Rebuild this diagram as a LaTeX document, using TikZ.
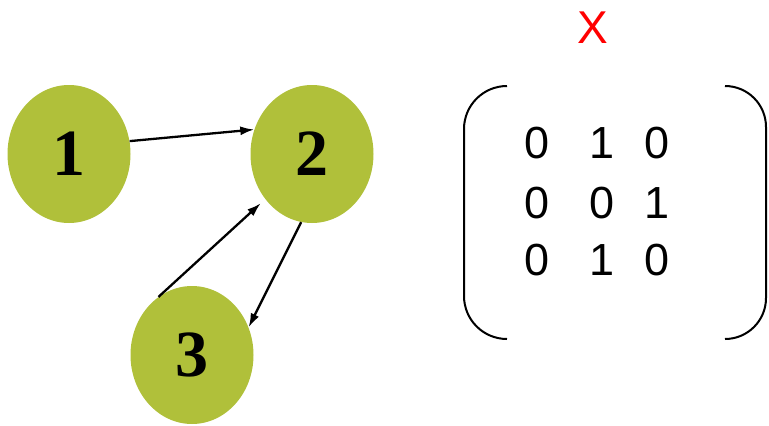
\documentclass[tikz,border=0pt]{standalone}
\usepackage{fontspec}
\setmainfont{Liberation Serif}
\newfontfamily\digitfont{Liberation Sans}
\usepackage{tikz}
\usetikzlibrary{arrows.meta,shapes.geometric}
\definecolor{vertexgreen}{RGB}{176,192,58}

\begin{document}
\begin{tikzpicture}[x=1pt,y=-1pt,
  vertex/.style={ellipse,fill=vertexgreen,minimum width=123pt,minimum height=138pt,
    inner sep=0pt,font=\fontsize{66}{66}\selectfont\bfseries},
  edge/.style={line width=2.3pt,-{Latex[length=14pt,width=9pt]}},
  entry/.style={font=\digitfont\fontsize{45}{45}\selectfont},
  bracket/.style={line width=2pt}]
  \useasboundingbox (0,0) rectangle (769,426);
  \node[vertex] (n1) at (69,154) {1};
  \node[vertex] (n2) at (312,154) {2};
  \node[vertex] (n3) at (192,355) {3};
  \draw[edge] (n1.12) -- (n2.157);
  \draw[edge] (n2.261) -- (n3.26);
  \draw[edge,shorten >=6pt] (n3.120) -- (n2.224);
  \node[font=\digitfont\fontsize{46}{46}\selectfont,text=red] (mname) at (593,28) {X};
  \foreach \r/\y/\a/\b/\c in {1/143/0/1/0, 2/203/0/0/1, 3/260/0/1/0} {
    \node[entry] (m\r1) at (537,\y) {\a};
    \node[entry] (m\r2) at (602,\y) {\b};
    \node[entry] (m\r3) at (657,\y) {\c};
  }
  \draw[bracket,rounded corners=43pt] (507,86) -- (464,86) -- (464,339) -- (507,339);
  \draw[bracket,rounded corners=41pt] (725,86) -- (766,86) -- (766,339) -- (725,339);
\end{tikzpicture}
\end{document}
